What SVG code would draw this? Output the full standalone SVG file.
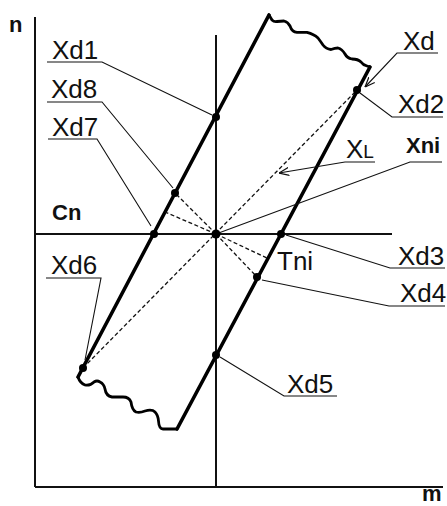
<svg xmlns="http://www.w3.org/2000/svg" width="447" height="506" viewBox="0 0 447 506">
<style>
.axis{stroke:#111;stroke-width:2;fill:none}
.thin{stroke:#111;stroke-width:1.1;fill:none}
.thick{stroke:#000;stroke-width:3.6;fill:none;stroke-linecap:round;stroke-linejoin:round}
.wave{stroke:#000;stroke-width:2.8;fill:none;stroke-linecap:round;stroke-linejoin:round}
.dash{stroke:#111;stroke-width:1.3;fill:none;stroke-dasharray:4 2.5}
.lbl{font-family:"Liberation Sans",Arial,sans-serif;font-size:26px;fill:#111}
.bold{font-family:"Liberation Sans",Arial,sans-serif;font-size:22px;font-weight:bold;fill:#111}
.dot{fill:#000}
</style>
<defs>
<marker id="arr" viewBox="0 0 10 10" refX="10" refY="5" markerWidth="10" markerHeight="10" markerUnits="userSpaceOnUse" orient="auto">
<path d="M0,1 L10,5 L0,9" fill="none" stroke="#111" stroke-width="1.2"/>
</marker>
</defs>
<rect width="447" height="506" fill="#fff"/>
<g id="axes">
<line class="axis" x1="35" y1="17" x2="35" y2="487"/>
<line class="axis" x1="35" y1="487" x2="443" y2="487"/>
<line class="axis" x1="216" y1="35" x2="216" y2="487"/>
<line class="axis" x1="35" y1="234" x2="392" y2="234"/>
<text class="bold" x="9" y="32">n</text>
<text class="bold" x="422" y="501" font-size="20">m</text>
<text class="bold" x="52" y="220">Cn</text>
</g>
<g id="strip">
<line class="thick" x1="269" y1="15" x2="78" y2="377"/>
<line class="thick" x1="370" y1="67" x2="177" y2="429"/>
<path class="wave" d="M269,15 L272,20 Q274,22 277,21.5 L284,21 Q288,22 290,26 Q292,32 297,32.3 L307,32.3 Q314,34 318,38 Q321,42 323,45 Q326,49 331,49.5 Q335,48 338,48 Q342,49 345,54 Q347,58 352,59 Q358,59 361,62 Q363,65 367,66 L370,67"/>
<path class="wave" d="M78,377 Q80,383 85,385 Q90,386 94,382 Q97,380 100,382 Q104,384 105,389 Q106,396 112,397 L123,397 Q129,397 131,402 Q132,410 136,412 Q140,413 145,411 Q152,409 155,412 Q158,415 158.5,421 Q159,429 163,429 L177,429"/>
</g>
<g id="dashed">
<line class="dash" x1="83" y1="368" x2="357" y2="90"/>
<line class="dash" x1="216" y1="234" x2="175" y2="193"/>
<line class="dash" x1="216" y1="234" x2="165" y2="212"/>
<line class="dash" x1="216" y1="234" x2="267" y2="258"/>
<line class="dash" x1="216" y1="234" x2="257" y2="277"/>
</g>
<g id="connectors">
<polyline class="thin" points="47,62 102,62 212,115"/>
<polyline class="thin" points="47,102 102,102 173,188"/>
<polyline class="thin" points="48,139 97,139 151,226"/>
<polyline class="thin" points="46,278 101,278 85,360"/>
<polyline class="thin" points="438,53 397,53 365,87" marker-end="url(#arr)"/>
<polyline class="thin" points="443,117 392,117 360,93"/>
<polyline class="thin" points="375,162 345,162 279,173" marker-end="url(#arr)"/>
<polyline class="thin" points="442,162 410,162 216,234"/>
<polyline class="thin" points="445,268 390,268 286,235"/>
<polyline class="thin" points="445,306 389,306 262,280"/>
<polyline class="thin" points="337,396 284,396 220,357"/>
</g>
<g id="Tni"><circle class="dot" cx="216" cy="234" r="4.5"/><text class="lbl" x="277" y="270">Tni</text></g>
<g id="Xni"><text class="bold" x="406" y="153">Xni</text></g>
<g id="Xd1"><circle class="dot" cx="216" cy="117" r="4"/><text class="lbl" x="52" y="59">Xd1</text></g>
<g id="Xd8"><circle class="dot" cx="175" cy="193" r="4"/><text class="lbl" x="51" y="98">Xd8</text></g>
<g id="Xd7"><circle class="dot" cx="154" cy="234" r="4"/><text class="lbl" x="52" y="136">Xd7</text></g>
<g id="Xd6"><circle class="dot" cx="83" cy="368" r="4"/><text class="lbl" x="51" y="274">Xd6</text></g>
<g id="Xd"><text class="lbl" x="403" y="50">Xd</text></g>
<g id="Xd2"><circle class="dot" cx="357" cy="90" r="4"/><text class="lbl" x="398" y="113">Xd2</text></g>
<g id="XL"><text class="lbl" x="346" y="158">X<tspan font-size="19">L</tspan></text></g>
<g id="Xd3"><circle class="dot" cx="281" cy="234" r="4"/><text class="lbl" x="398" y="265">Xd3</text></g>
<g id="Xd4"><circle class="dot" cx="257" cy="277" r="4"/><text class="lbl" x="400" y="302">Xd4</text></g>
<g id="Xd5"><circle class="dot" cx="216" cy="355" r="4"/><text class="lbl" x="287" y="393">Xd5</text></g>
</svg>
